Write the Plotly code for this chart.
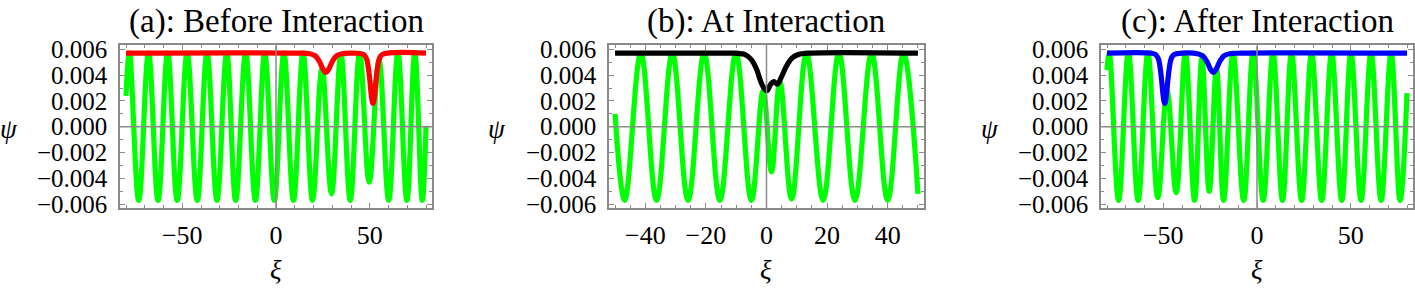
import plotly.graph_objects as go

# ---------------- data ----------------
# Panel (a): Before Interaction
a_green_x = [-80.0, -78.2, -73.2, -68.0, -62.9, -57.8, -52.7, -47.4, -42.0, -36.8, -31.5,
             -26.3, -21.5, -16.2, -11.0, -6.0, -0.9, 4.2, 9.3, 14.4, 19.5, 24.5, 29.6,
             34.6, 39.6, 44.6, 49.7, 54.9, 60.1, 65.0, 69.8, 74.0, 78.0, 80.0]
a_green_y = [0.0024, 0.0057, -0.0057, 0.0057, -0.0057, 0.0057, -0.0057, 0.0057, -0.0057, 0.0057, -0.0057,
             0.0057, -0.0057, 0.0057, -0.0057, 0.0057, -0.0057, 0.0057, -0.0057, 0.0057, -0.0057, 0.0045, -0.0052,
             0.0056, -0.0057, 0.0057, -0.0043, 0.0052, -0.0057, 0.0057, -0.0057, 0.0057, -0.0057, 0.0000]
a_red_x = [-80.0, 10.0, 18.1, 20.6, 22.1, 23.6, 25.1, 26.6, 28.1, 29.6, 31.1, 32.6, 35.1, 42.0,
           46.7, 48.2, 49.2, 50.1, 50.9, 51.7, 52.5, 53.3, 54.2, 55.2, 56.7, 80.0]
a_red_y = [0.0057, 0.0057, 0.00566, 0.00552, 0.0053, 0.00493, 0.00445, 0.0042, 0.00445, 0.00493, 0.0053, 0.00552, 0.00566, 0.0057,
           0.0056, 0.0053, 0.00462, 0.00352, 0.00235, 0.0018, 0.00235, 0.00352, 0.00462, 0.0053, 0.0056, 0.0057]

# Panel (b): At Interaction
b_green_x = [-50.0, -46.8, -41.5, -36.3, -31.1, -25.9, -20.6, -15.4, -10.1, -5.0, -1.1, 1.65, 4.4,
             8.3, 13.2, 18.7, 23.9, 29.2, 34.7, 40.0, 45.2, 50.0]
b_green_y = [0.0010, -0.0057, 0.0057, -0.0057, 0.0057, -0.0057, 0.0057, -0.0057, 0.0057, -0.0057, 0.0028, -0.0035, 0.0035,
             -0.0056, 0.0057, -0.0057, 0.0057, -0.0057, 0.0057, -0.0057, 0.0057, -0.0052]
b_black_x = [-50.0, -12.0, -9.4, -7.2, -5.0, -3.3, -1.9, -0.55, 0.2, 1.3, 2.4, 3.6, 5.0, 6.6, 8.3, 10.5, 13.8, 50.0]
b_black_y = [0.0057, 0.0057, 0.00568, 0.0056, 0.0052, 0.00447, 0.0035, 0.0029, 0.0028, 0.00326, 0.0035, 0.0033, 0.0039,
             0.0047, 0.0053, 0.0056, 0.0057, 0.0057]

# Panel (c): After Interaction
c_green_x = [-80.0, -78.8, -73.8, -68.6, -63.4, -58.2, -52.9, -48.0, -43.1, -38.2, -33.3, -29.4, -25.5,
             -21.6, -17.8, -12.8, -7.1, -2.1, 3.3, 8.5, 13.6, 18.4, 23.8, 29.1, 34.5, 39.8, 45.2,
             50.1, 55.5, 60.8, 66.2, 71.5, 76.3, 80.0]
c_green_y = [0.0044, 0.0057, -0.0057, 0.0057, -0.0057, 0.0057, -0.0055, 0.0028, -0.0051, 0.0057, -0.0057, 0.0053, -0.0050,
             0.0045, -0.0057, 0.0057, -0.0057, 0.0057, -0.0057, 0.0057, -0.0057, 0.0057, -0.0057, 0.0057, -0.0057, 0.0057, -0.0057,
             0.0057, -0.0057, 0.0057, -0.0057, 0.0057, -0.0057, 0.0026]
c_blue_x = [-80.0, -56.5, -54.2, -52.7, -51.7, -50.8, -50.0, -49.2, -48.4, -47.6, -46.7, -45.7, -44.2, -40.0,
            -31.8, -29.3, -27.8, -26.3, -24.8, -23.3, -21.8, -20.3, -18.8, -17.3, -14.8, -8.0, 80.0]
c_blue_y = [0.0057, 0.0057, 0.0056, 0.0053, 0.00462, 0.00352, 0.00235, 0.0018, 0.00235, 0.00352, 0.00462, 0.0053, 0.0056, 0.0057,
            0.00566, 0.00552, 0.0053, 0.00493, 0.00445, 0.0042, 0.00445, 0.00493, 0.0053, 0.00552, 0.00566, 0.0057, 0.0057]

titles = ["(a): Before Interaction", "(b): At Interaction", "(c): After Interaction"]
y_tickvals = [-0.006, -0.004, -0.002, 0.0, 0.002, 0.004, 0.006]
y_ticktext = ["\u22120.006", "\u22120.004", "\u22120.002", "0.000", "0.002", "0.004", "0.006"]
a_xtickvals = [-50, 0, 50]
a_xticktext = ["\u221250", "0", "50"]
b_xtickvals = [-40, -20, 0, 20, 40]
b_xticktext = ["\u221240", "\u221220", "0", "20", "40"]
c_xtickvals = [-50, 0, 50]
c_xticktext = ["\u221250", "0", "50"]

# ---------------- styling / layout ----------------
W, H = 1415, 290
FONT = "Liberation Serif, Times New Roman, Times, serif"
FRAME = "#8a8a8a"
GREEN = "rgb(0,255,0)"
LW = 5.2

fig = go.Figure()

def add(x, y, color, axis):
    fig.add_trace(go.Scatter(x=x, y=y, mode="lines",
                             line=dict(color=color, width=LW, shape="spline", smoothing=1.1),
                             xaxis="x" + axis, yaxis="y" + axis, showlegend=False,
                             hoverinfo="skip"))

add(a_green_x, a_green_y, GREEN, "")
add(a_red_x, a_red_y, "rgb(255,0,0)", "")
add(b_green_x, b_green_y, GREEN, "2")
add(b_black_x, b_black_y, "black", "2")
add(c_green_x, c_green_y, GREEN, "3")
add(c_blue_x, c_blue_y, "rgb(0,0,255)", "3")

panels_px = [(120, 432), (609, 924), (1101, 1413)]
frame_top, frame_bot = 39, 213
ydom = [(H - frame_bot) / H, (H - frame_top) / H]

def xaxis(dom, rng, tv, tt, minor_dt, anchor):
    return dict(domain=[dom[0] / W, dom[1] / W], range=rng, anchor=anchor,
                tickmode="array", tickvals=tv, ticktext=tt,
                showline=True, linecolor=FRAME, linewidth=1.5, mirror="ticks",
                ticks="inside", ticklen=5, tickwidth=1, tickcolor=FRAME,
                minor=dict(ticks="inside", ticklen=3, tickwidth=1, tickcolor=FRAME,
                           tickmode="linear", tick0=0, dtick=minor_dt),
                showgrid=False, zeroline=False, ticklabelstandoff=3,
                tickfont=dict(family=FONT, size=26, color="black"))

def yaxis(anchor):
    return dict(domain=ydom, range=[-0.0063, 0.0063], anchor=anchor,
                tickmode="array", tickvals=y_tickvals, ticktext=y_ticktext,
                showline=True, linecolor=FRAME, linewidth=1.5, mirror="ticks",
                ticks="inside", ticklen=5, tickwidth=1, tickcolor=FRAME,
                minor=dict(ticks="inside", ticklen=3, tickwidth=1, tickcolor=FRAME,
                           tickmode="linear", tick0=0, dtick=0.001),
                showgrid=False, zeroline=False, ticklabelstandoff=6,
                tickfont=dict(family=FONT, size=25, color="black"))

fig.update_layout(
    width=W, height=H, margin=dict(l=0, r=0, t=0, b=0),
    paper_bgcolor="white", plot_bgcolor="white",
    xaxis=xaxis(panels_px[0], [-83.2, 83.2], a_xtickvals, a_xticktext, 10, "y"),
    yaxis=yaxis("x"),
    xaxis2=xaxis(panels_px[1], [-52, 52], b_xtickvals, b_xticktext, 5, "y2"),
    yaxis2=yaxis("x2"),
    xaxis3=xaxis(panels_px[2], [-83.2, 83.2], c_xtickvals, c_xticktext, 10, "y3"),
    yaxis3=yaxis("x3"),
)

# axes through the origin (Mathematica style), drawn above the curves
shapes = []
for ax in ["", "2", "3"]:
    shapes.append(dict(type="line", xref="x" + ax, yref="y" + ax + " domain",
                       x0=0, x1=0, y0=0, y1=1, layer="above",
                       line=dict(color=FRAME, width=1.5)))
    shapes.append(dict(type="line", xref="x" + ax + " domain", yref="y" + ax,
                       x0=0, x1=1, y0=0, y1=0, layer="above",
                       line=dict(color=FRAME, width=1.5)))
fig.update_layout(shapes=shapes)

# titles and axis labels
ann = []
title_cx = [276, 766, 1257]
psi_x = [9, 497, 990]
for i in range(3):
    ann.append(dict(text=titles[i], x=title_cx[i] / W, y=1 - 13 / H, xref="paper", yref="paper",
                    xanchor="center", yanchor="middle", showarrow=False,
                    font=dict(family=FONT, size=33, color="black")))
    ann.append(dict(text="<i>\u03c8</i>", x=psi_x[i] / W, y=1 - 128 / H, xref="paper", yref="paper",
                    xanchor="center", yanchor="middle", showarrow=False,
                    font=dict(family=FONT, size=27, color="black")))
    ann.append(dict(text="<i>\u03be</i>", x=title_cx[i] / W, y=1 - 279 / H, xref="paper", yref="paper",
                    xanchor="center", yanchor="middle", showarrow=False,
                    font=dict(family=FONT, size=27, color="black")))
fig.update_layout(annotations=ann)

fig.write_html("out.html", config={"displayModeBar": False},
               post_script="document.body.style.margin='0';document.body.style.overflow='hidden';")
